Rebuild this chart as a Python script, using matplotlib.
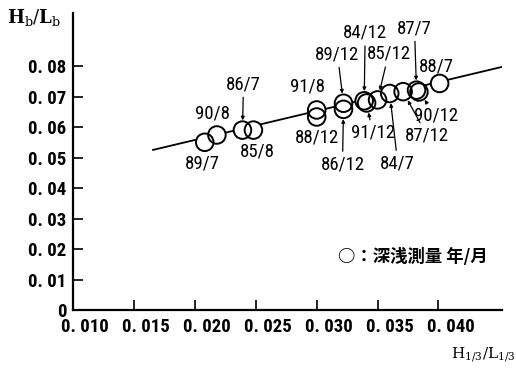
import matplotlib
matplotlib.use('Agg')
import matplotlib.pyplot as plt
import matplotlib.transforms as mtransforms
from matplotlib import font_manager
from matplotlib.font_manager import FontProperties
import numpy as np

# survey data: H1/3/L1/3 vs Hb/Lb, labelled year/month
labels = ['89/7', '90/8', '86/7', '85/8', '91/8', '88/12', '89/12', '86/12',
          '84/12', '91/12', '85/12', '84/7', '87/12', '87/7', '90/12', '88/7']
x_vals = [0.0208, 0.0218, 0.0239, 0.0248, 0.0300, 0.0300, 0.0322, 0.0322,
          0.0339, 0.0341, 0.0350, 0.0360, 0.0371, 0.0382, 0.0384, 0.0401]
y_vals = [0.0550, 0.0574, 0.0590, 0.0590, 0.0656, 0.0633, 0.0678, 0.0658,
          0.0686, 0.0679, 0.0689, 0.0710, 0.0716, 0.0721, 0.0715, 0.0743]

# fitted line end points
line_x = [0.01655, 0.0452]
line_y = [0.0525, 0.0797]

x_ticks = [0.010, 0.015, 0.020, 0.025, 0.030, 0.035, 0.040]
x_ticklabels = ['0. 010', '0. 015', '0. 020', '0. 025', '0. 030', '0. 035', '0. 040']
y_ticks = [0, 0.01, 0.02, 0.03, 0.04, 0.05, 0.06, 0.07, 0.08]
y_ticklabels = ['0', '0. 01', '0. 02', '0. 03', '0. 04', '0. 05', '0. 06', '0. 07', '0. 08']

# label placement: offset in pixels from the circle, and whether a leader line is drawn
LABEL_OFFSETS = {
    '89/7': (-2, -21, False), '90/8': (-4, 21, False), '86/7': (1, 46, True),
    '85/8': (4, -21, False), '91/8': (-9, 23, False), '88/12': (0, -21, False),
    '89/12': (-6, 49, True), '86/12': (-1, -55, True), '84/12': (1, 68, True),
    '91/12': (6, -30, True), '85/12': (11, 46, True), '84/7': (8, -70, True),
    '87/12': (24, -44, True), '87/7': (-2, 62, True), '90/12': (17, -24, True),
    '88/7': (-3, 17, False),
}


def find_narrow(bold):
    """Look for a condensed sans font file, fall back to Liberation Sans."""
    wanted = ['RobotoCondensed', 'LiberationSansNarrow', 'DejaVuSansCondensed',
              'OpenSans_Condensed', 'OpenSansCondensed', 'NotoSans-Condensed',
              'NotoSansDisplay-Condensed']
    files = [f.fname for f in font_manager.fontManager.ttflist]
    for key in wanted:
        for fn in files:
            base = fn.split('/')[-1]
            if key in base and (('Bold' in base) == bold) and 'Italic' not in base \
                    and 'Oblique' not in base and 'Semi' not in base \
                    and 'Extra' not in base:
                return FontProperties(fname=fn), True
    return FontProperties(family='Liberation Sans',
                          weight='bold' if bold else 'normal'), False


bold_fp, bold_narrow = find_narrow(True)
reg_fp, reg_narrow = find_narrow(False)
tick_size = 13.5 if bold_narrow else 11
lab_size = 13.5 if reg_narrow else 11

fig = plt.figure(figsize=(5.16, 3.72), dpi=100)
ax = fig.add_axes([73.3 / 516, 1 - 310 / 372, (501.7 - 73.3) / 516, (310 - 13) / 372])

ax.plot(line_x, line_y, color='black', lw=1.3, zorder=1)
ax.scatter(x_vals, y_vals, s=160, facecolor='white', edgecolor='none', zorder=2)
ax.scatter(x_vals, y_vals, s=160, facecolor='none', edgecolor='black',
           linewidth=1.4, zorder=3)

for lab, xv, yv in zip(labels, x_vals, y_vals):
    dx, dy, lead = LABEL_OFFSETS[lab]
    props = None
    if lead:
        props = dict(arrowstyle='-|>', color='black', lw=0.9, shrinkA=1,
                     shrinkB=7, mutation_scale=5)
    t = ax.annotate(lab, (xv, yv), xytext=(dx, dy), textcoords='offset pixels',
                    ha='center', va='center', arrowprops=props, zorder=4)
    t.set_fontproperties(reg_fp)
    t.set_fontsize(lab_size)

ax.set_xlim(0.010, 0.0452)
ax.set_ylim(0, 0.0974)
ax.set_xticks(x_ticks)
ax.set_xticklabels(x_ticklabels)
ax.set_yticks(y_ticks)
ax.set_yticklabels(y_ticklabels)
ax.tick_params(direction='in', length=7, width=1.2, colors='black')
ax.tick_params(axis='x', pad=6)
ax.tick_params(axis='y', pad=5)
for t in ax.get_xticklabels() + ax.get_yticklabels():
    t.set_fontproperties(bold_fp)
    t.set_fontsize(tick_size)
shift = mtransforms.ScaledTranslation(12 / 100, 0, fig.dpi_scale_trans)
for t in ax.get_xticklabels():
    t.set_transform(t.get_transform() + shift)

for side in ['top', 'right']:
    ax.spines[side].set_visible(False)
for side in ['left', 'bottom']:
    ax.spines[side].set_linewidth(1.6)

# legend note
fig.text(338 / 516, 1 - 257 / 372, '○：深浅測量 年/月',
         ha='left', va='center', fontsize=12.5, fontweight='bold',
         family=['Noto Sans CJK JP', 'DejaVu Sans'])

# axis titles
plt.rcParams['mathtext.fontset'] = 'dejavuserif'
fig.text(7 / 516, 1 - 18 / 372, r'$\mathbf{H}_{\mathrm{b}}/\mathbf{L}_{\mathrm{b}}$',
         ha='left', va='center', fontsize=13)
fig.text(451 / 516, 1 - 354 / 372, r'$\mathrm{H}_{1/3}/\mathrm{L}_{1/3}$',
         ha='left', va='center', fontsize=11)

fig.savefig('out.png', dpi=100, facecolor='white')
